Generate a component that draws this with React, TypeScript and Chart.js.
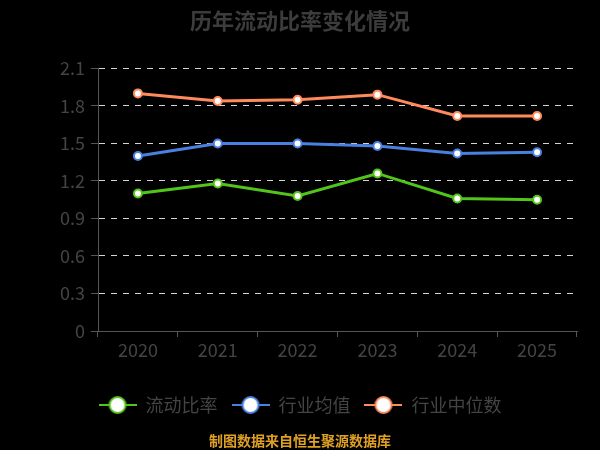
import { useEffect, useRef } from "react";
import { Chart, registerables } from "chart.js";

Chart.register(...registerables);

const years = ["2020", "2021", "2022", "2023", "2024", "2025"];
const currentRatio = [1.1, 1.18, 1.08, 1.26, 1.06, 1.05];
const industryMean = [1.4, 1.5, 1.5, 1.48, 1.42, 1.43];
const industryMedian = [1.9, 1.84, 1.85, 1.89, 1.72, 1.72];
const yTicks = [0, 0.3, 0.6, 0.9, 1.2, 1.5, 1.8, 2.1];

const GREEN = "#52c41a";
const BLUE = "#4a80e0";
const ORANGE = "#ff8a5b";
const TEXT = "#444444";
const FONT = "'Noto Sans CJK SC', 'Noto Sans', sans-serif";

// legend icon: short line with a hollow circle on it
function legendIcon(color: string) {
  const c = document.createElement("canvas");
  c.width = 38;
  c.height = 20;
  const g = c.getContext("2d")!;
  g.strokeStyle = color;
  g.lineWidth = 2;
  g.beginPath();
  g.moveTo(0, 10);
  g.lineTo(38, 10);
  g.stroke();
  g.beginPath();
  g.arc(19, 10, 8, 0, Math.PI * 2);
  g.fillStyle = "#fff";
  g.fill();
  g.stroke();
  return c;
}

const backgroundPlugin = {
  id: "blackBg",
  beforeDraw(chart: Chart) {
    const { ctx, width, height } = chart;
    ctx.save();
    ctx.fillStyle = "#000";
    ctx.fillRect(0, 0, width, height);
    ctx.restore();
  },
};

const footerPlugin = {
  id: "footer",
  afterDraw(chart: Chart) {
    const { ctx } = chart;
    ctx.save();
    ctx.font = `bold 14px ${FONT}`;
    ctx.fillStyle = "#e0a025";
    ctx.textAlign = "center";
    ctx.textBaseline = "middle";
    ctx.fillText("制图数据来自恒生聚源数据库", 300, 441);
    ctx.restore();
  },
};

const App = () => {
  const canvasRef = useRef<HTMLCanvasElement>(null);
  const chartRef = useRef<Chart | null>(null);

  useEffect(() => {
    document.body.style.margin = "0";
    document.body.style.background = "#000";
    if (!canvasRef.current) return;
    if (chartRef.current) chartRef.current.destroy();

    const icons: Record<string, HTMLCanvasElement> = {
      [GREEN]: legendIcon(GREEN),
      [BLUE]: legendIcon(BLUE),
      [ORANGE]: legendIcon(ORANGE),
    };

    const makeSet = (label: string, data: number[], color: string) => ({
      label,
      data,
      borderColor: color,
      backgroundColor: "#fff",
      borderWidth: 3,
      pointStyle: "circle" as const,
      pointRadius: 4,
      pointBorderWidth: 2,
      pointBorderColor: color,
      pointBackgroundColor: "#fff",
      tension: 0,
    });

    chartRef.current = new Chart(canvasRef.current, {
      type: "line",
      data: {
        labels: years,
        datasets: [
          makeSet("流动比率", currentRatio, GREEN),
          makeSet("行业均值", industryMean, BLUE),
          makeSet("行业中位数", industryMedian, ORANGE),
        ],
      },
      options: {
        animation: false,
        responsive: false,
        layout: { padding: { left: 23, right: 23, top: 0, bottom: 26 } },
        plugins: {
          title: {
            display: true,
            text: "历年流动比率变化情况",
            color: "#3c3c3c",
            font: { family: FONT, size: 22, weight: "bold" },
            padding: { top: 7, bottom: 35 },
          },
          legend: {
            position: "bottom",
            labels: {
              usePointStyle: true,
              pointStyleWidth: 38,
              padding: 14,
              color: TEXT,
              font: { family: FONT, size: 18 },
              generateLabels: (chart: Chart) =>
                chart.data.datasets.map((ds: any, i: number) => ({
                  text: ds.label,
                  pointStyle: icons[ds.borderColor],
                  fillStyle: "#fff",
                  strokeStyle: ds.borderColor,
                  lineWidth: 0,
                  fontColor: TEXT,
                  hidden: false,
                  datasetIndex: i,
                })),
            },
          },
          tooltip: { enabled: false },
        },
        scales: {
          x: {
            offset: true,
            grid: {
              display: true,
              drawOnChartArea: false,
              offset: true,
              tickLength: 6,
              tickColor: "#555",
            },
            border: { color: "#555", width: 1 },
            ticks: {
              color: TEXT,
              padding: 2,
              font: { family: FONT, size: 18 },
            },
            afterFit: (scale: any) => {
              scale.height = 51;
            },
          },
          y: {
            min: 0,
            max: 2.1,
            afterBuildTicks: (scale: any) => {
              scale.ticks = yTicks.map((v) => ({ value: v }));
            },
            grid: {
              color: (c: any) => (c.tick && c.tick.value === 0 ? "transparent" : "#d4d4d4"),
              lineWidth: 1,
              tickLength: 7,
              tickColor: "#555",
              tickBorderDash: [],
            },
            border: { color: "#555", width: 1, dash: [6, 6] },
            ticks: {
              color: TEXT,
              padding: 6,
              font: { family: FONT, size: 18 },
              callback: (v: any) => (v === 0 ? "0" : Number(v).toFixed(1)),
            },
            afterFit: (scale: any) => {
              scale.width = 75;
            },
          },
        },
      },
      plugins: [backgroundPlugin, footerPlugin],
    });

    return () => {
      if (chartRef.current) {
        chartRef.current.destroy();
        chartRef.current = null;
      }
    };
  }, []);

  return (
    <div style={{ width: 600, height: 450, background: "#000" }}>
      <canvas ref={canvasRef} width={600} height={450} />
    </div>
  );
};

export default App;
